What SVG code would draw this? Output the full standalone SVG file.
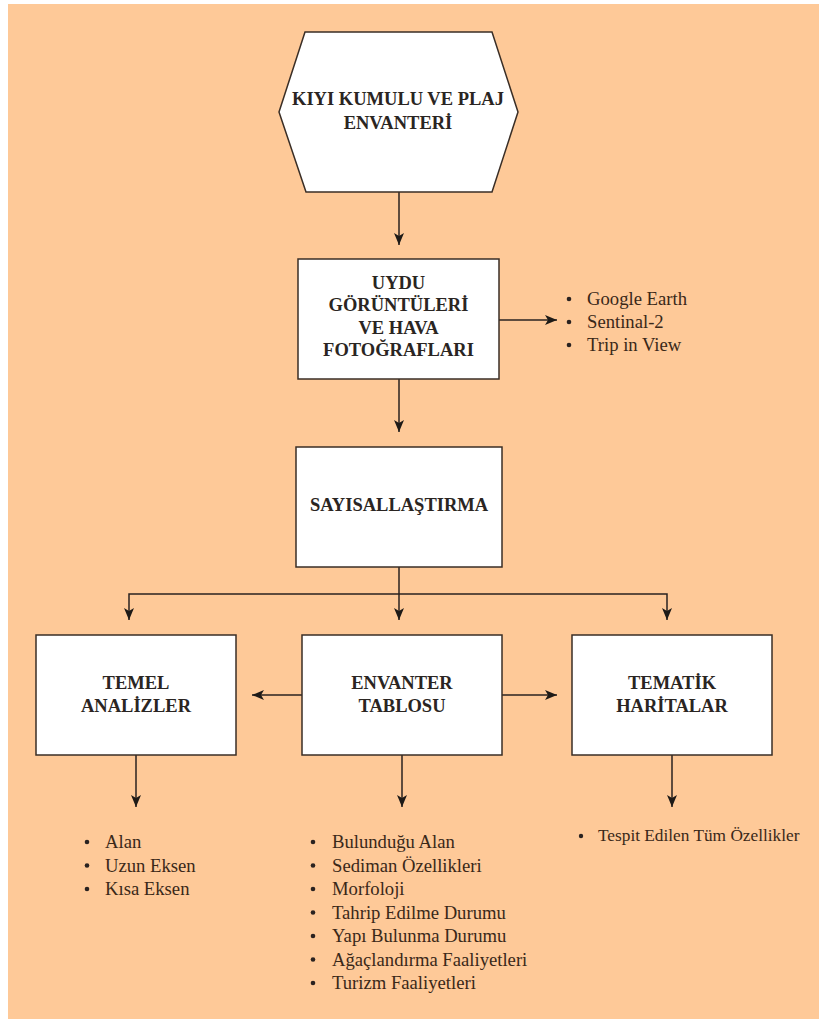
<svg xmlns="http://www.w3.org/2000/svg" width="819" height="1021" viewBox="0 0 819 1021" font-family="Liberation Serif, Tinos, Times New Roman, DejaVu Serif, serif">
<defs>
<marker id="arr" viewBox="0 0 12 10" refX="12" refY="5" markerWidth="12" markerHeight="10" markerUnits="userSpaceOnUse" orient="auto">
<path d="M0,0 L12,5 L0,10 L3,5 Z" fill="#1e1a17"/>
</marker>
<style>
.box{fill:#ffffff;stroke:#3a2e26;stroke-width:1.5}
.t{font-weight:bold;font-size:18.5px;fill:#2a2522;text-anchor:middle}
.l{font-size:18.67px;fill:#3a2818}
.s{font-size:17.3px;fill:#3a2818}
.c{fill:none;stroke:#2a2220;stroke-width:1.5}
.b{fill:#2a2220}
</style>
</defs>
<rect x="0" y="0" width="819" height="1021" fill="#ffffff"/>
<rect x="8" y="4" width="811" height="1015" fill="#fec998"/>

<g id="connectors">
<path class="c" d="M399,192 V245" marker-end="url(#arr)"/>
<path class="c" d="M499,320 H557" marker-end="url(#arr)"/>
<path class="c" d="M399,379 V432" marker-end="url(#arr)"/>
<path class="c" d="M399,567 V620" marker-end="url(#arr)"/>
<path class="c" d="M399,594 H129 V620" marker-end="url(#arr)"/>
<path class="c" d="M399,594 H667 V620" marker-end="url(#arr)"/>
<path class="c" d="M302,695 H252" marker-end="url(#arr)"/>
<path class="c" d="M502,695 H557" marker-end="url(#arr)"/>
<path class="c" d="M136,755 V807" marker-end="url(#arr)"/>
<path class="c" d="M402,755 V807" marker-end="url(#arr)"/>
<path class="c" d="M672,755 V807" marker-end="url(#arr)"/>
</g>

<g id="kiyi">
<polygon class="box" points="305,32 492,32 518,112 492,192 306,192 279,112"/>
<text class="t" x="398" y="105">KIYI KUMULU VE PLAJ</text>
<text class="t" x="398" y="129">ENVANTERİ</text>
</g>

<g id="uydu">
<rect class="box" x="298" y="259" width="201" height="120"/>
<text class="t" x="398.5" y="289">UYDU</text>
<text class="t" x="398.5" y="311">GÖRÜNTÜLERİ</text>
<text class="t" x="398.5" y="334">VE HAVA</text>
<text class="t" x="398.5" y="356">FOTOĞRAFLARI</text>
</g>

<g id="uydu-list">
<circle class="b" cx="569" cy="299" r="2.3"/>
<circle class="b" cx="569" cy="322" r="2.3"/>
<circle class="b" cx="569" cy="345" r="2.3"/>
<text class="l" x="587" y="305">Google Earth</text>
<text class="l" x="587" y="328">Sentinal-2</text>
<text class="l" x="587" y="351">Trip in View</text>
</g>

<g id="sayisal">
<rect class="box" x="296" y="447" width="206" height="120"/>
<text class="t" x="399" y="511">SAYISALLAŞTIRMA</text>
</g>

<g id="temel">
<rect class="box" x="36" y="635" width="200" height="120"/>
<text class="t" x="136" y="689">TEMEL</text>
<text class="t" x="136" y="712">ANALİZLER</text>
</g>

<g id="envanter">
<rect class="box" x="302" y="635" width="200" height="120"/>
<text class="t" x="402" y="689">ENVANTER</text>
<text class="t" x="402" y="712">TABLOSU</text>
</g>

<g id="tematik">
<rect class="box" x="572" y="635" width="200" height="120"/>
<text class="t" x="672" y="689">TEMATİK</text>
<text class="t" x="672" y="712">HARİTALAR</text>
</g>

<g id="temel-list">
<circle class="b" cx="87" cy="842" r="2.3"/>
<circle class="b" cx="87" cy="865.5" r="2.3"/>
<circle class="b" cx="87" cy="889" r="2.3"/>
<text class="l" x="105" y="848">Alan</text>
<text class="l" x="105" y="871.5">Uzun Eksen</text>
<text class="l" x="105" y="895">Kısa Eksen</text>
</g>

<g id="envanter-list">
<circle class="b" cx="313" cy="842" r="2.3"/>
<circle class="b" cx="313" cy="865.5" r="2.3"/>
<circle class="b" cx="313" cy="889" r="2.3"/>
<circle class="b" cx="313" cy="912.5" r="2.3"/>
<circle class="b" cx="313" cy="936" r="2.3"/>
<circle class="b" cx="313" cy="959.5" r="2.3"/>
<circle class="b" cx="313" cy="983" r="2.3"/>
<text class="l" x="332" y="848">Bulunduğu Alan</text>
<text class="l" x="332" y="871.5">Sediman Özellikleri</text>
<text class="l" x="332" y="895">Morfoloji</text>
<text class="l" x="332" y="918.5">Tahrip Edilme Durumu</text>
<text class="l" x="332" y="942">Yapı Bulunma Durumu</text>
<text class="l" x="332" y="965.5">Ağaçlandırma Faaliyetleri</text>
<text class="l" x="332" y="989">Turizm Faaliyetleri</text>
</g>

<g id="tematik-list">
<circle class="b" cx="581" cy="836" r="2.2"/>
<text class="s" x="598" y="841">Tespit Edilen Tüm Özellikler</text>
</g>
</svg>
